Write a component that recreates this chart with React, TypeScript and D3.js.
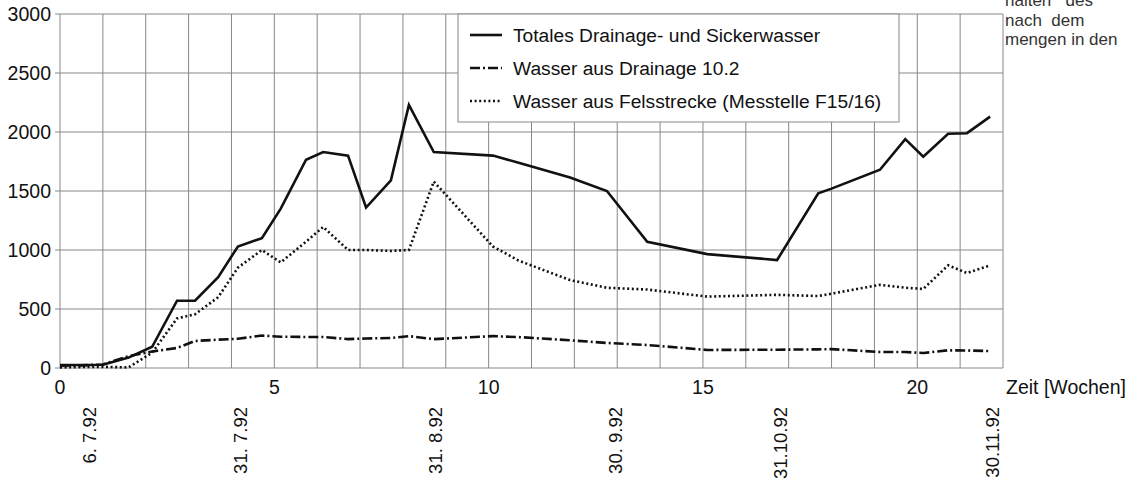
import * as d3 from "d3";

// Messzeitpunkte in Wochen
const weeks = [0, 0.5, 1.0, 1.6, 2.15, 2.73, 3.15, 3.69, 4.15, 4.71, 5.15, 5.74, 6.14, 6.72, 7.14, 7.72, 8.14, 8.72, 10.1, 10.7, 11.9, 12.76, 13.7, 15.1, 16.73, 17.69, 18.0, 19.13, 19.72, 20.14, 20.72, 21.16, 21.7];

const totalWater = [25, 25, 28, 88, 180, 570, 570, 770, 1030, 1100, 1350, 1765, 1830, 1800, 1360, 1590, 2230, 1830, 1800, 1740, 1615, 1500, 1070, 965, 915, 1480, 1520, 1680, 1940, 1790, 1985, 1990, 2130];
const drainageWater = [20, 22, 30, 100, 140, 170, 229, 240, 248, 275, 265, 263, 263, 245, 250, 254, 270, 245, 270, 262, 235, 212, 195, 153, 155, 158, 160, 136, 135, 127, 150, 148, 144];
const rockWater = [5, 8, 10, 5, 130, 420, 455, 600, 850, 1000, 895, 1070, 1195, 1000, 1000, 992, 1000, 1580, 1030, 910, 745, 680, 665, 605, 620, 610, 630, 705, 680, 670, 870, 805, 870];

const xTicks = [0, 5, 10, 15, 20];
const yTicks = [0, 500, 1000, 1500, 2000, 2500, 3000];
const dateLabels = ["6. 7.92", "31. 7.92", "31. 8.92", "30. 9.92", "31.10.92", "30.11.92"];
const dateWeeks = [0.68, 4.2, 8.75, 12.95, 16.8, 21.75];

const legendLabels = [
  "Totales Drainage- und Sickerwasser",
  "Wasser aus Drainage 10.2",
  "Wasser aus Felsstrecke (Messtelle F15/16)",
];
const sideText = ["halten   des", "nach  dem", "mengen in den"];

const font = "'Liberation Sans', Arial, Helvetica, sans-serif";

export default function App() {
  const left = 60, right = 1003, top = 14, bottom = 368;
  const x = d3.scaleLinear().domain([0, 22]).range([left, right]);
  const y = d3.scaleLinear().domain([0, 3000]).range([bottom, top]);

  const mk = (vals: number[]) =>
    d3.line<number>().x((_, i) => x(weeks[i])).y((d) => y(d))(vals) || "";

  const series = [
    { vals: totalWater, dash: "none" },
    { vals: drainageWater, dash: "10 3 2 3" },
    { vals: rockWater, dash: "2 2.6" },
  ];

  const gridColor = "#888";

  return (
    <svg width={1130} height={484} style={{ position: "absolute", left: 0, top: 0, background: "#fff" }} fontFamily={font}>
      {/* vertical grid, one line per week */}
      {d3.range(0, 23).map((w) => (
        <line key={"v" + w} x1={x(w)} x2={x(w)} y1={top} y2={bottom} stroke={gridColor} strokeWidth={1} />
      ))}
      {yTicks.map((t) => (
        <g key={"h" + t}>
          <line x1={left - 5} x2={right} y1={y(t)} y2={y(t)} stroke={gridColor} strokeWidth={1} />
          <text x={left - 9} y={y(t)} dy="0.36em" textAnchor="end" fontSize={19.5} fill="#111">{t}</text>
        </g>
      ))}
      {xTicks.map((t) => (
        <text key={"x" + t} x={x(t)} y={394} textAnchor="middle" fontSize={19.5} fill="#111">{t}</text>
      ))}
      <text x={1006} y={394} fontSize={19.5} fill="#111">Zeit [Wochen]</text>
      {dateLabels.map((d, i) => (
        <text key={d} transform={`translate(${x(dateWeeks[i]) + 7},407) rotate(-90)`} textAnchor="end" fontSize={18.5} fill="#111">{d}</text>
      ))}

      {series.map((s, i) => (
        <path key={i} d={mk(s.vals)} fill="none" stroke="#111" strokeWidth={2.6} strokeDasharray={s.dash} strokeLinejoin="miter" />
      ))}

      {/* legend */}
      <rect x={458} y={top} width={441} height={108} fill="#fff" stroke={gridColor} strokeWidth={1} />
      {legendLabels.map((l, i) => (
        <g key={l} transform={`translate(0,${35 + i * 33})`}>
          <line x1={470} x2={502} y1={0} y2={0} stroke="#111" strokeWidth={2.6} strokeDasharray={series[i].dash} />
          <text x={513} y={0} dy="0.36em" fontSize={19.2} fill="#111">{l}</text>
        </g>
      ))}

      {sideText.map((t, i) => (
        <text key={i} x={1005} y={[6, 26, 45][i]} fontSize={17} fill="#333" style={{ whiteSpace: "pre" }}>{t}</text>
      ))}
    </svg>
  );
}
